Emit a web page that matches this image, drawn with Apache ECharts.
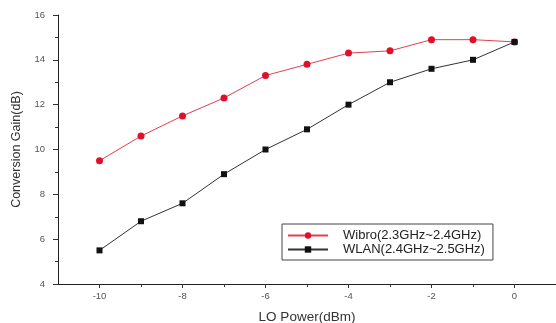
<!DOCTYPE html>
<html><head><meta charset="utf-8">
<script src="https://cdn.jsdelivr.net/npm/echarts@6/dist/echarts.min.js"></script>
<style>html,body{margin:0;padding:0;background:#fff}#c{width:556px;height:323px}</style>
</head><body><div id="c"></div>
<script>
const loPower = [-10,-9,-8,-7,-6,-5,-4,-3,-2,-1,0];
const wibro = [9.5,10.6,11.5,12.3,13.3,13.8,14.3,14.4,14.9,14.9,14.8];
const wlan = [5.5,6.8,7.6,8.9,10.0,10.9,12.0,13.0,13.6,14.0,14.8];
const xMajorTicks = [-10,-8,-6,-4,-2,0];
const xMinorTicks = [-9,-7,-5,-3,-1];
const seriesNames = ['Wibro(2.3GHz~2.4GHz)','WLAN(2.4GHz~2.5GHz)'];

const font = 'Liberation Sans, Arial, sans-serif';
const chart = echarts.init(document.getElementById('c'));
chart.setOption({
  animation:false,
  backgroundColor:'#fff',
  grid:{left:58,top:15,right:0,bottom:39,outerBoundsMode:'none',containLabel:false},
  legend:{
    orient:'vertical', left:282, top:224,
    padding:[5,8,4,5], itemGap:1, itemWidth:40, itemHeight:8,
    borderColor:'#444', borderWidth:1,
    textStyle:{fontFamily:font,fontSize:13,lineHeight:12,color:'#222',padding:[0,0,0,10]},
    data:seriesNames
  },
  xAxis:[{
    type:'value', min:-11, max:1,
    axisLine:{onZero:false,lineStyle:{color:'#222',width:1}},
    axisTick:{customValues:xMajorTicks,length:4,lineStyle:{color:'#333'}},
    axisLabel:{customValues:xMajorTicks,fontFamily:font,fontSize:9.5,color:'#555',margin:7},
    splitLine:{show:false},
    name:'LO Power(dBm)', nameLocation:'middle', nameGap:26,
    nameTextStyle:{fontFamily:font,fontSize:13.5,color:'#333'}
  },{
    type:'value', min:-11, max:1, position:'bottom',
    axisLine:{show:false},
    axisTick:{customValues:xMinorTicks,length:3,lineStyle:{color:'#333'}},
    axisLabel:{show:false}, splitLine:{show:false}
  }],
  yAxis:{
    type:'value', min:4, max:16, interval:2,
    axisLine:{show:true,onZero:false,lineStyle:{color:'#222',width:1}},
    axisTick:{show:true,length:5,lineStyle:{color:'#333'}},
    minorTick:{show:true,splitNumber:2,length:3,lineStyle:{color:'#333'}},
    axisLabel:{fontFamily:font,fontSize:9.5,color:'#555',margin:13},
    splitLine:{show:false},
    name:'Conversion Gain(dB)', nameLocation:'middle', nameGap:35,
    nameTextStyle:{fontFamily:font,fontSize:12.5,color:'#333'}
  },
  series:[{
    name:seriesNames[0], type:'line',
    data:loPower.map((x,i)=>[x,wibro[i]]),
    symbol:'circle', symbolSize:7,
    itemStyle:{color:'#e0102a'}, lineStyle:{color:'#e04050',width:1}
  },{
    name:seriesNames[1], type:'line',
    data:loPower.map((x,i)=>[x,wlan[i]]),
    symbol:'rect', symbolSize:6,
    itemStyle:{color:'#111'}, lineStyle:{color:'#333',width:1}
  }]
});
</script></body></html>
